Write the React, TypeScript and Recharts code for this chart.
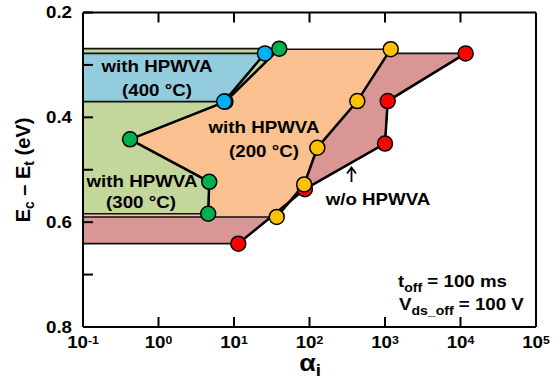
import React from 'react';
import { ComposedChart, Area, Line, Scatter, XAxis, YAxis } from 'recharts';

// ---------- axes ----------
const AXIS_MIN = 0.1;
const AXIS_MAX = 100000;
const E_MIN = 0.2;
const E_MAX = 0.8;
const xTicks = [0.1, 1, 10, 100, 1000, 10000, 100000];
const xTopTicks = [1, 10, 100, 1000, 10000];
const yTicks = [0.2, 0.3, 0.4, 0.5, 0.6, 0.7, 0.8];
const yRightTicks = [0.3, 0.4, 0.5, 0.6, 0.7];
const yTickLabels = ['0.2', '0.4', '0.6', '0.8'];

// ---------- data: alpha_i (x) and Ec-Et (y) ----------
// w/o HPWVA (red)
const woAlpha = [11700, 1086, 1000, 87, 11.4];
const woE = [0.278, 0.369, 0.45, 0.537, 0.641];
// with HPWVA 200 °C (yellow/orange)
const t200Alpha = [1190, 430, 127, 85, 36.8];
const t200E = [0.27, 0.369, 0.458, 0.528, 0.59];
// with HPWVA 300 °C (green)
const t300Alpha = [39.8, 7.7, 0.42, 4.7, 4.55];
const t300E = [0.269, 0.37, 0.442, 0.523, 0.584];
// with HPWVA 400 °C (blue)
const t400Alpha = [25.7, 7.4];
const t400E = [0.278, 0.37];

const toPoints = (a: number[], e: number[]) => a.map((v, i) => ({ x: v, y: e[i] }));
const toPolygon = (a: number[], e: number[]) => [
  { x: AXIS_MIN, y: e[0] },
  ...toPoints(a, e),
  { x: AXIS_MIN, y: e[e.length - 1] },
];

const series = [
  { key: 'wo', pts: toPoints(woAlpha, woE), poly: toPolygon(woAlpha, woE), fill: '#D99694', dot: '#FF0000' },
  { key: 't200', pts: toPoints(t200Alpha, t200E), poly: toPolygon(t200Alpha, t200E), fill: '#FAC090', dot: '#FFC000' },
  { key: 't300', pts: toPoints(t300Alpha, t300E), poly: toPolygon(t300Alpha, t300E), fill: '#C3D69B', dot: '#00B050' },
  { key: 't400', pts: toPoints(t400Alpha, t400E), poly: toPolygon(t400Alpha, t400E), fill: '#93CDDD', dot: '#00B0F0' },
];

const FONT = "Arial, 'Liberation Sans', sans-serif";
const SX = 1.17;
const TICK_LEN = 10;
const LEFT_GAP = 11;
const BOTTOM_GAP = 10;

const SText = ({ x, y, anchor = 'middle', size = 16, children }: any) => (
  <text
    transform={`translate(${x} ${y}) scale(${SX} 1)`}
    textAnchor={anchor}
    fontSize={size}
    fontFamily={FONT}
    fontWeight="bold"
    fill="#000"
  >
    {children}
  </text>
);

const BottomTick = (props: any) => {
  const { x, y, payload } = props;
  const exp = Math.round(Math.log10(payload.value));
  const axisY = y - BOTTOM_GAP;
  return (
    <g>
      <line x1={x} x2={x} y1={axisY} y2={axisY - TICK_LEN} stroke="#000" strokeWidth={2} />
      <g transform={`translate(${x},${y}) scale(${SX},1)`}>
        <text x={0} y={0} dy={11} textAnchor="middle" fontFamily={FONT} fontWeight="bold" fontSize={16} fill="#000">
          10
          <tspan dy={-4.5} fontSize={10.5}>{String(exp)}</tspan>
        </text>
      </g>
    </g>
  );
};

const TopTick = (props: any) => {
  const { x, y } = props;
  return <line x1={x} x2={x} y1={y} y2={y + TICK_LEN} stroke="#000" strokeWidth={2} />;
};

const LeftTick = (props: any) => {
  const { x, y, payload } = props;
  const label = Number(payload.value).toFixed(1);
  const axisX = x + LEFT_GAP;
  return (
    <g>
      <line x1={axisX} x2={axisX + TICK_LEN} y1={y} y2={y} stroke="#000" strokeWidth={2} />
      {yTickLabels.includes(label) ? (
        <g transform={`translate(${x},${y}) scale(${SX},1)`}>
          <text x={0} y={0} dy={5.7} textAnchor="end" fontFamily={FONT} fontWeight="bold" fontSize={16} fill="#000">
            {label}
          </text>
        </g>
      ) : null}
    </g>
  );
};

const RightTick = (props: any) => {
  const { x, y } = props;
  return <line x1={x} x2={x - TICK_LEN} y1={y} y2={y} stroke="#000" strokeWidth={2} />;
};

const Annotations = () => (
  <svg
    width={560}
    height={380}
    style={{ position: 'absolute', left: 0, top: 0, pointerEvents: 'none', overflow: 'visible' }}
  >
    <SText x={157} y={71.7}>with HPWVA</SText>
    <SText x={157} y={95.5}>(400 °C)</SText>
    <SText x={264} y={133.2}>with HPWVA</SText>
    <SText x={264} y={156.5}>(200 °C)</SText>
    <SText x={142} y={186.5}>with HPWVA</SText>
    <SText x={141} y={208.2}>(300 °C)</SText>
    <SText x={378} y={205}>w/o HPWVA</SText>
    <path d="M351.5,182 L351.5,168" stroke="#000" strokeWidth={1.8} fill="none" />
    <path d="M347,173.5 L351.5,167.5 L356,173.5" stroke="#000" strokeWidth={1.8} fill="none" />
    <SText x={398} y={287} anchor="start">
      t<tspan dy={5} fontSize={12}>off</tspan>
      <tspan dy={-5}> = 100 ms</tspan>
    </SText>
    <SText x={399} y={310} anchor="start">
      V<tspan dy={4.5} fontSize={12}>ds_off</tspan>
      <tspan dy={-4.5}> = 100 V</tspan>
    </SText>
    <text
      transform="translate(29.5 170) rotate(-90)"
      textAnchor="middle"
      fontSize={20}
      fontFamily={FONT}
      fontWeight="bold"
      fill="#000"
    >
      E<tspan dy={4} fontSize={14}>c</tspan>
      <tspan dy={-4}> – E</tspan>
      <tspan dy={4} fontSize={14}>t</tspan>
      <tspan dy={-4}> (eV)</tspan>
    </text>
    <SText x={310} y={371} size={23}>
      α<tspan dy={5} fontSize={16}>i</tspan>
    </SText>
  </svg>
);

const axisLine = { stroke: '#000', strokeWidth: 2 };

export default function App() {
  return (
    <div style={{ position: 'fixed', left: 0, top: 0, width: 560, height: 380, background: '#fff' }}>
      <ComposedChart
        layout="vertical"
        width={560}
        height={380}
        margin={{ top: 11.5, right: 23, bottom: 13, left: 23 }}
      >
        <XAxis
          dataKey="x"
          type="number"
          scale="log"
          domain={[AXIS_MIN, AXIS_MAX]}
          allowDataOverflow
          ticks={xTicks}
          interval={0}
          height={40}
          tickSize={0}
          tickMargin={BOTTOM_GAP}
          tick={<BottomTick />}
          axisLine={axisLine}
          tickLine={false}
        />
        <XAxis
          xAxisId="t"
          orientation="top"
          type="number"
          scale="log"
          domain={[AXIS_MIN, AXIS_MAX]}
          allowDataOverflow
          ticks={xTopTicks}
          interval={0}
          height={1}
          tickSize={0}
          tickMargin={0}
          tick={<TopTick />}
          axisLine={axisLine}
          tickLine={false}
        />
        <YAxis
          dataKey="y"
          type="number"
          domain={[E_MIN, E_MAX]}
          allowDataOverflow
          ticks={yTicks}
          interval={0}
          width={60}
          tickSize={0}
          tickMargin={LEFT_GAP}
          tick={<LeftTick />}
          axisLine={axisLine}
          tickLine={false}
        />
        <YAxis
          yAxisId="r"
          orientation="right"
          type="number"
          domain={[E_MIN, E_MAX]}
          allowDataOverflow
          ticks={yRightTicks}
          interval={0}
          width={1}
          tickSize={0}
          tickMargin={0}
          tick={<RightTick />}
          axisLine={axisLine}
          tickLine={false}
        />
        {series.map((s) => (
          <Area
            key={`a-${s.key}`}
            data={s.poly}
            dataKey="x"
            type="linear"
            fill={s.fill}
            fillOpacity={1}
            stroke="#111"
            strokeWidth={1.6}
            dot={false}
            activeDot={false}
            isAnimationActive={false}
          />
        ))}
        {series.map((s) => (
          <Line
            key={`l-${s.key}`}
            data={s.pts}
            dataKey="x"
            type="linear"
            stroke="#000"
            strokeWidth={2.5}
            dot={false}
            activeDot={false}
            isAnimationActive={false}
          />
        ))}
        {series.map((s) => (
          <Scatter
            key={`s-${s.key}`}
            data={s.pts}
            isAnimationActive={false}
            shape={(p: any) => (
              <circle cx={p.cx} cy={p.cy} r={7.5} fill={s.dot} stroke="#000" strokeWidth={1.5} />
            )}
          />
        ))}
      </ComposedChart>
      <Annotations />
    </div>
  );
}
